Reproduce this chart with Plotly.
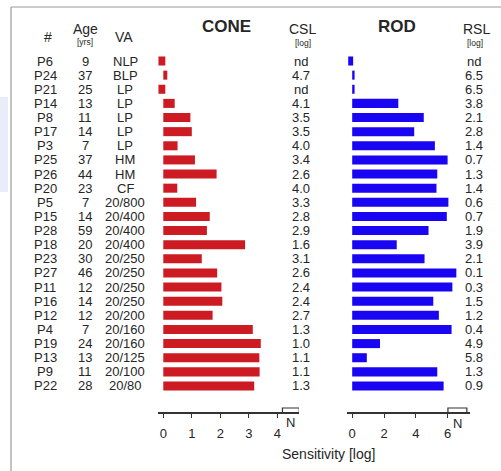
import plotly.graph_objects as go

# ---------------- data ----------------
patients = ["P6", "P24", "P21", "P14", "P8", "P17", "P3", "P25", "P26", "P20", "P5", "P15",
            "P28", "P18", "P23", "P27", "P11", "P16", "P12", "P4", "P19", "P13", "P9", "P22"]
ages = [9, 37, 25, 13, 11, 14, 7, 37, 44, 23, 7, 14, 59, 20, 30, 46, 12, 14, 12, 7, 24, 13, 11, 28]
va = ["NLP", "BLP", "LP", "LP", "LP", "LP", "LP", "HM", "HM", "CF", "20/800", "20/400",
      "20/400", "20/400", "20/250", "20/250", "20/250", "20/250", "20/200", "20/160",
      "20/160", "20/125", "20/100", "20/80"]
csl = ["nd", "4.7", "nd", "4.1", "3.5", "3.5", "4.0", "3.4", "2.6", "4.0", "3.3", "2.8",
       "2.9", "1.6", "3.1", "2.6", "2.4", "2.4", "2.7", "1.3", "1.0", "1.1", "1.1", "1.3"]
rsl = ["nd", "6.5", "6.5", "3.8", "2.1", "2.8", "1.4", "0.7", "1.3", "1.4", "0.6", "0.7",
       "1.9", "3.9", "2.1", "0.1", "0.3", "1.5", "1.2", "0.4", "4.9", "5.8", "1.3", "0.9"]
# bar lengths (log sensitivity); None = not detectable (nd)
cone_sens = [None, 0.14, None, 0.40, 0.95, 1.0, 0.50, 1.11, 1.87, 0.49, 1.15, 1.63,
             1.53, 2.87, 1.35, 1.89, 2.04, 2.07, 1.73, 3.14, 3.42, 3.37, 3.38, 3.19]
rod_sens = [None, 0.15, 0.15, 2.9, 4.5, 3.9, 5.2, 6.0, 5.35, 5.3, 6.05, 5.95,
            4.8, 2.8, 4.55, 6.55, 6.3, 5.1, 5.45, 6.25, 1.75, 0.92, 5.35, 5.75]
cone_ticks = [0, 1, 2, 3, 4]
rod_ticks = [0, 2, 4, 6]
cone_normal = (4.18, 4.77)   # "N" normal range box
rod_normal = (6.02, 7.21)

# ---------------- styling ----------------
W, H = 501, 471
FONT = "Liberation Sans, Arial, sans-serif"
TXT = "#262626"
RED = "#cc1b22"
BLUE = "#1a05f2"
ROW0, ROWH = 61.0, 14.13

def px(x):
    return x / W

def py(y):
    return 1 - y / H

cone_nd = (-0.17, 0.24)
rod_nd = (-0.25, 0.31)

def bars(vals, nd):
    base, length = [], []
    for v in vals:
        if v is None:
            base.append(nd[0]); length.append(nd[1])
        else:
            base.append(0); length.append(v)
    return base, length

rows = list(range(len(patients)))
cb, cl = bars(cone_sens, cone_nd)
rb, rl = bars(rod_sens, rod_nd)

fig = go.Figure()
fig.add_trace(go.Bar(y=rows, x=cl, base=cb, orientation="h", width=0.64,
                     marker=dict(color=RED, line=dict(width=0)),
                     xaxis="x", yaxis="y", hoverinfo="skip", showlegend=False))
fig.add_trace(go.Bar(y=rows, x=rl, base=rb, orientation="h", width=0.64,
                     marker=dict(color=BLUE, line=dict(width=0)),
                     xaxis="x2", yaxis="y", hoverinfo="skip", showlegend=False))

AXY = 413  # axis line pixel row
cone_zero, cone_scale = 163.3, 28.5
rod_zero, rod_scale = 352.2, 15.9
cone_dom = (158, 299)
rod_dom = (347, 470)

axis_common = dict(anchor="free", position=py(AXY), showline=True, linecolor="#333",
                   linewidth=1.5, ticks="outside", ticklen=4, tickwidth=1.3, tickcolor="#333",
                   showgrid=False, zeroline=False, fixedrange=True,
                   tickfont=dict(family=FONT, size=13, color=TXT), ticklabelstandoff=5)

fig.update_layout(
    width=W, height=H, margin=dict(l=0, r=0, t=0, b=0),
    paper_bgcolor="white", plot_bgcolor="rgba(0,0,0,0)",
    barmode="overlay",
    xaxis=dict(domain=[px(cone_dom[0]), px(cone_dom[1])],
               range=[(cone_dom[0] - cone_zero) / cone_scale, (cone_dom[1] - cone_zero) / cone_scale],
               tickvals=cone_ticks, **axis_common),
    xaxis2=dict(domain=[px(rod_dom[0]), px(rod_dom[1])],
                range=[(rod_dom[0] - rod_zero) / rod_scale, (rod_dom[1] - rod_zero) / rod_scale],
                tickvals=rod_ticks, **axis_common),
    yaxis=dict(domain=[0, 1], range=[(H - ROW0) / ROWH, -ROW0 / ROWH], visible=False,
               fixedrange=True),
)

shapes = [
    # page frame
    dict(type="line", xref="paper", yref="paper", x0=px(11), x1=px(W), y0=py(7), y1=py(7),
         line=dict(color="#9a9a9a", width=1.2)),
    dict(type="line", xref="paper", yref="paper", x0=px(11), x1=px(11), y0=py(7), y1=0,
         line=dict(color="#9a9a9a", width=1.2)),
    dict(type="rect", xref="paper", yref="paper", x0=0, x1=px(8), y0=py(97), y1=py(192),
         fillcolor="#e9ecf9", line=dict(width=0), layer="below"),
]
for xr, (n0, n1) in (("x", cone_normal), ("x2", rod_normal)):
    shapes.append(dict(type="path", xref=xr, yref="paper",
                       path=f"M {n0},{py(AXY)} L {n0},{py(AXY - 5)} L {n1},{py(AXY - 5)} L {n1},{py(AXY)}",
                       line=dict(color="#333", width=1.2)))
fig.update_layout(shapes=shapes)

ann = []

def txt(x, y, s, size=13, yref="paper", bold=False, xref="paper"):
    ann.append(dict(x=x, y=y, xref=xref, yref=yref, text=f"<b>{s}</b>" if bold else s,
                    showarrow=False, xanchor="center", yanchor="middle",
                    font=dict(family=FONT, size=size, color=TXT)))

# headers
txt(px(47.5), py(37), "#", 14)
txt(px(85.3), py(29), "Age", 14)
txt(px(85.3), py(42.5), "[yrs]", 8.5)
txt(px(124), py(37), "VA", 14)
txt(px(226), py(27), "CONE", 17, bold=True)
txt(px(302.5), py(29), "CSL", 14)
txt(px(302.5), py(43), "[log]", 8.5)
txt(px(396.7), py(27), "ROD", 17, bold=True)
txt(px(476.5), py(29), "RSL", 14)
txt(px(475), py(43), "[log]", 8.5)

for i in rows:
    txt(px(45), i, patients[i], 13, yref="y")
    txt(px(85.3), i, str(ages[i]), 13, yref="y")
    txt(px(125), i, va[i], 13, yref="y")
    txt(px(301.2), i, csl[i], 13, yref="y")
    txt(px(474), i, rsl[i], 13, yref="y")

# N labels
txt(sum(cone_normal) / 2, py(422), "N", 13, xref="x")
txt(sum(rod_normal) / 2, py(423), "N", 13, xref="x2")
txt(px(328.5), py(454), "Sensitivity [log]", 14)

fig.update_layout(annotations=ann)
fig.write_html("out.html", config={"displayModeBar": False},
               post_script="document.body.style.margin='0';document.body.style.overflow='hidden';")
